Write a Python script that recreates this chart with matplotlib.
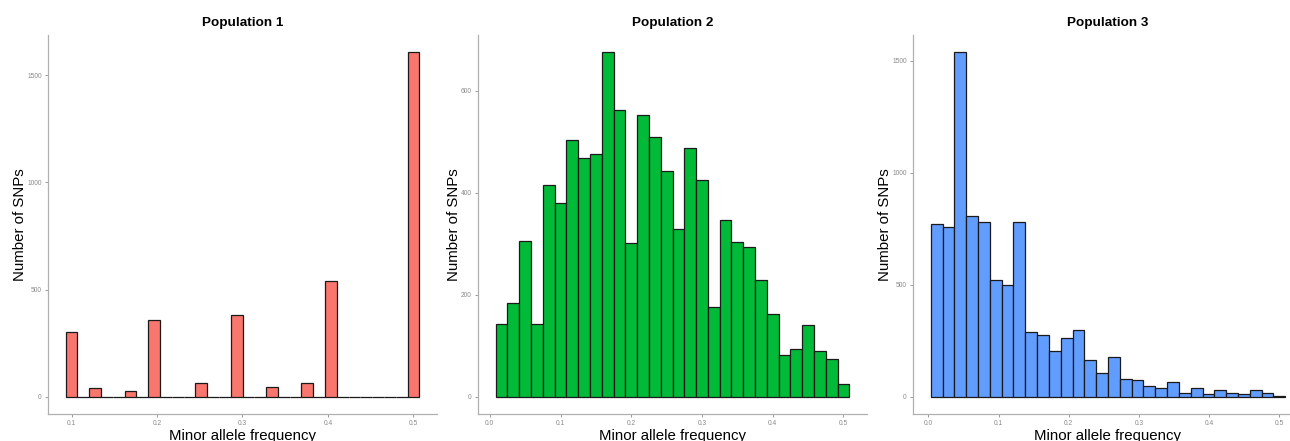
import numpy as np
import matplotlib
matplotlib.use("Agg")
import matplotlib.pyplot as plt

plt.rcParams['font.family'] = ['Liberation Sans', 'DejaVu Sans']

# histogram counts, 30 bins per population
pop1_min, pop1_max = 0.1, 0.5
pop1_counts = [304, 0, 42, 0, 0, 26, 0, 358, 0, 0,
               0, 65, 0, 0, 383, 0, 0, 45, 0, 0,
               62, 0, 540, 0, 0, 0, 0, 0, 0, 1609]

pop2_min, pop2_max = 1 / 60, 0.5
pop2_counts = [142, 184, 305, 143, 415, 381, 503, 469, 477, 677,
               563, 302, 552, 509, 443, 330, 488, 426, 176, 346,
               304, 294, 229, 162, 81, 93, 140, 90, 74, 26]

pop3_min, pop3_max = 0.0118, 0.5
pop3_counts = [771, 759, 1540, 805, 778, 520, 498, 780, 288, 276,
               205, 261, 297, 162, 108, 179, 80, 74, 50, 41,
               66, 18, 37, 13, 28, 18, 12, 31, 18, 5]

titles = ["Population 1", "Population 2", "Population 3"]
colors = ["#F8766D", "#00BA38", "#619CFF"]
yticks = [[0, 500, 1000, 1500], [0, 200, 400, 600], [0, 500, 1000, 1500]]
xticks = [[0.1, 0.2, 0.3, 0.4, 0.5],
          [0.0, 0.1, 0.2, 0.3, 0.4, 0.5],
          [0.0, 0.1, 0.2, 0.3, 0.4, 0.5]]

W, H = 1290, 441
fig = plt.figure(figsize=(W / 100, H / 100), dpi=100)

# axes boxes in pixels: left, right
boxes = [(48, 437), (478, 867), (913, 1303)]
top_px, bottom_px = 34.5, 414

data = [(pop1_min, pop1_max, pop1_counts),
        (pop2_min, pop2_max, pop2_counts),
        (pop3_min, pop3_max, pop3_counts)]

for i, (lo, hi, counts) in enumerate(data):
    l, r = boxes[i]
    ax = fig.add_axes([l / W, (H - bottom_px) / H, (r - l) / W, (bottom_px - top_px) / H])
    counts = np.array(counts)
    n = len(counts)
    width = (hi - lo) / (n - 1)
    centers = lo + width * np.arange(n)
    ax.bar(centers, counts, width=width, color=colors[i], edgecolor="#1a1a1a",
           linewidth=0.9, align='center')

    # ggplot style 5% expansion
    x0, x1 = centers[0] - width / 2, centers[-1] + width / 2
    xpad = 0.05 * (x1 - x0)
    ax.set_xlim(x0 - xpad, x1 + xpad)
    ypad = 0.05 * counts.max()
    ax.set_ylim(-ypad, counts.max() + ypad)

    ax.set_xticks(xticks[i])
    ax.set_xticklabels([f"{t:.1f}" for t in xticks[i]])
    ax.set_yticks(yticks[i])
    ax.tick_params(labelsize=4.8, colors="#8a8a8a", length=2.5, width=0.6, pad=2)
    for s in ["top", "right"]:
        ax.spines[s].set_visible(False)
    for s in ["left", "bottom"]:
        ax.spines[s].set_color("#b0b0b0")
        ax.spines[s].set_linewidth(0.9)

    ax.set_title(titles[i], fontsize=9.7, fontweight='bold', pad=6)
    ax.set_xlabel("Minor allele frequency", fontsize=10.8, labelpad=1)
    ax.set_ylabel("Number of SNPs", fontsize=10.8, labelpad=0)

fig.savefig("out.png", dpi=100)
